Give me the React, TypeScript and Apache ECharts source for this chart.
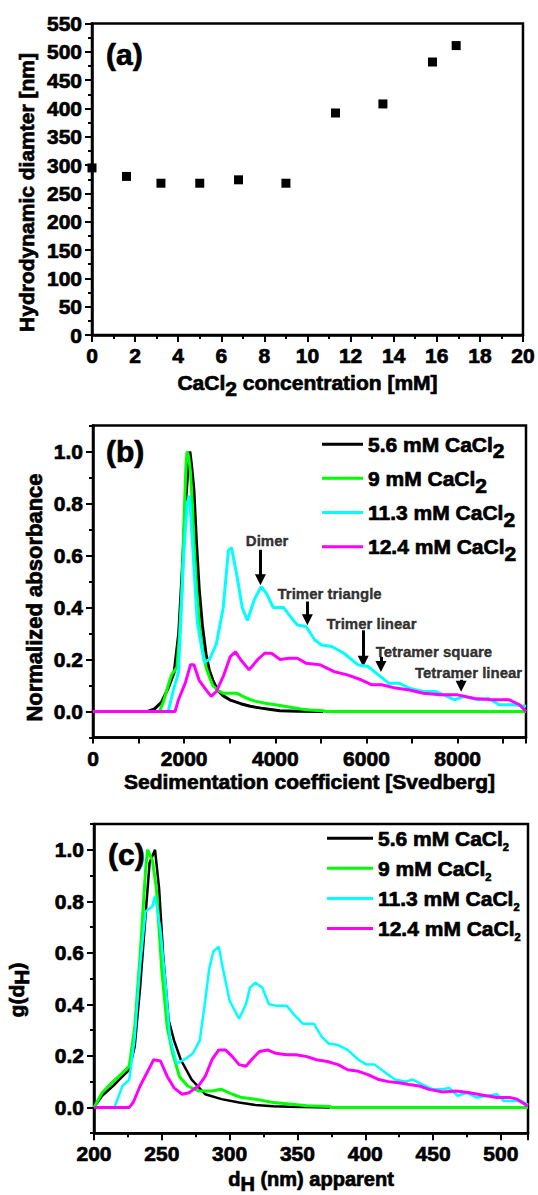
import { useEffect, useRef } from 'react';
import * as echarts from 'echarts';

const FONT = 'Liberation Sans';

// ---------------- Panel (a): DLS hydrodynamic diameter ----------------
const cacl2Conc = [0, 1.6, 3.2, 5.0, 6.8, 9.0, 11.3, 13.5, 15.8, 16.9];
const hydroDiameter = [295, 280, 268, 268, 274, 268, 392, 408, 482, 511];
const aXRange = [0, 20];
const aXStep = 2;
const aYRange = [0, 550];
const aYStep = 50;

// ---------------- Series names / colours (panels b & c) ----------------
const seriesNames = ['5.6 mM CaCl2', '9 mM CaCl2', '11.3 mM CaCl2', '12.4 mM CaCl2'];
const seriesColors = ['#000000', '#00ff00', '#00ffff', '#ff00ff'];

// ---------------- Panel (b): sedimentation coefficient [S] vs normalized absorbance ----------------
const sed56 = [[1200,0],[1350,0.01],[1500,0.035],[1650,0.09],[1780,0.15],[1880,0.3],[1960,0.55],[2030,0.8],[2100,0.97],[2125,1.0],[2160,0.95],[2215,0.85],[2270,0.65],[2330,0.47],[2400,0.33],[2480,0.22],[2550,0.16],[2630,0.12],[2740,0.08],[2860,0.06],[3000,0.045],[3240,0.03],[3450,0.02],[3690,0.013],[3900,0.008],[4100,0.003],[4500,0.001],[5050,0]];
const sed9 = [[1460,0],[1550,0.04],[1650,0.1],[1720,0.14],[1840,0.17],[1900,0.3],[1950,0.47],[2000,0.75],[2040,0.95],[2065,1.0],[2100,0.98],[2140,0.92],[2180,0.8],[2215,0.66],[2270,0.48],[2330,0.34],[2400,0.24],[2480,0.17],[2560,0.13],[2630,0.1],[2750,0.08],[2860,0.07],[3000,0.07],[3160,0.07],[3270,0.06],[3390,0.05],[3550,0.04],[3690,0.035],[3850,0.03],[4000,0.026],[4200,0.02],[4370,0.015],[4550,0.01],[4750,0.006],[5050,0.003],[5100,0],[9500,0]];
const sed113 = [[1650,0],[1760,0.08],[1875,0.15],[1990,0.6],[2065,0.8],[2117,0.83],[2178,0.66],[2290,0.34],[2440,0.19],[2556,0.2],[2707,0.26],[2858,0.4],[2971,0.62],[3040,0.63],[3160,0.52],[3274,0.4],[3387,0.35],[3538,0.43],[3690,0.48],[3803,0.455],[3954,0.4],[4181,0.4],[4332,0.365],[4484,0.333],[4673,0.327],[4862,0.276],[5013,0.256],[5240,0.25],[5504,0.224],[5807,0.18],[6034,0.173],[6260,0.141],[6487,0.109],[6714,0.109],[6941,0.09],[7243,0.077],[7508,0.077],[7773,0.058],[7924,0.045],[8150,0.058],[8453,0.045],[8680,0.05],[8907,0.026],[9209,0.026],[9500,0.02]];
const sed124 = [[0,0],[1800,0],[1875,0.045],[2026,0.11],[2140,0.18],[2215,0.18],[2329,0.12],[2480,0.083],[2593,0.058],[2707,0.077],[2858,0.135],[3009,0.21],[3123,0.23],[3236,0.2],[3425,0.16],[3614,0.2],[3765,0.224],[3917,0.224],[4106,0.2],[4295,0.205],[4484,0.205],[4673,0.186],[4975,0.18],[5278,0.154],[5580,0.141],[5882,0.122],[6109,0.103],[6336,0.103],[6638,0.09],[6941,0.083],[7243,0.07],[7621,0.064],[7999,0.064],[8377,0.05],[8755,0.045],[9133,0.045],[9360,0.026],[9500,0]];
const bXRange = [0, 9500];
const bXStep = 1000;
const bXLabelStep = 2000;

// ---------------- Panel (c): apparent d_H vs g(d_H) ----------------
const dh56 = [[200,0],[206,0.045],[214,0.083],[221,0.12],[226,0.146],[230,0.236],[234,0.465],[238,0.745],[241,0.95],[245,1.0],[248,0.85],[251,0.59],[255,0.34],[259,0.26],[264,0.185],[272,0.108],[282,0.051],[294,0.032],[307,0.019],[319,0.009],[332,0.004],[344,0.002],[374,0]];
const dh9 = [[200,0],[206,0.057],[214,0.1],[221,0.134],[226,0.16],[230,0.31],[234,0.59],[238,0.92],[239.5,1.0],[243,0.96],[246,0.85],[250,0.53],[254,0.31],[258,0.21],[263,0.12],[269,0.083],[277,0.064],[287,0.064],[294,0.07],[302,0.051],[309,0.038],[319,0.032],[332,0.019],[344,0.013],[357,0.006],[374,0.003],[375,0],[520,0]];
const dh113 = [[215,0],[221,0.083],[226,0.108],[230,0.27],[234,0.55],[238,0.76],[243,0.78],[245,0.82],[249,0.69],[253,0.465],[256,0.27],[261,0.17],[268,0.19],[273,0.21],[278,0.26],[282,0.414],[285,0.54],[288,0.605],[292,0.624],[295,0.54],[300,0.414],[307,0.344],[312,0.4],[315,0.465],[319,0.484],[324,0.465],[329,0.4],[334,0.395],[342,0.395],[347,0.363],[354,0.325],[362,0.325],[368,0.274],[373,0.248],[380,0.242],[387,0.223],[395,0.185],[401,0.166],[407,0.166],[415,0.134],[422,0.108],[430,0.1],[435,0.108],[442,0.089],[450,0.07],[457,0.07],[462,0.076],[468,0.045],[475,0.057],[482,0.038],[490,0.045],[497,0.051],[502,0.025],[510,0.025],[515,0.025],[520,0.01]];
const dh124 = [[200,0],[226,0],[229,0.02],[234,0.083],[239,0.134],[244,0.185],[249,0.18],[254,0.12],[259,0.076],[265,0.051],[270,0.057],[277,0.083],[282,0.12],[287,0.185],[292,0.223],[297,0.223],[302,0.197],[307,0.166],[312,0.16],[317,0.19],[322,0.217],[328,0.223],[334,0.21],[342,0.204],[349,0.204],[357,0.197],[364,0.185],[372,0.178],[380,0.166],[387,0.146],[395,0.14],[402,0.127],[410,0.108],[417,0.1],[425,0.096],[432,0.089],[440,0.083],[447,0.07],[457,0.06],[467,0.064],[477,0.057],[487,0.047],[497,0.038],[507,0.038],[512,0.032],[520,0.004]];
const cXRange = [200, 520];
const cXStep = 50;

// shared normalized y axis
const normYRange = [-0.1, 1.1];
const normYStep = 0.1;
const normYMajor = [0, 0.2, 0.4, 0.6, 0.8, 1.0];

// ---------------- Panel (b) annotations ----------------
const annotationText = ['Dimer', 'Trimer triangle', 'Trimer linear', 'Tetramer square', 'Tetramer linear'];
const annotationX = [3820, 5190, 6110, 7480, 8240];
const annotationY = [0.657, 0.453, 0.337, 0.231, 0.151];
const arrowX = [3674, 4703, 5928, 6318, 8077];
const arrowTail = [0.622, 0.423, 0.312, 0.21, 0.122];
const arrowTip = [0.487, 0.333, 0.173, 0.153, 0.077];

const HEAVY = { textBorderColor: '#000', textBorderWidth: 0.7 };

// rich text for ECharts components: main token centred in a line of height subH + 2*drop,
// subscript token pushed down by its top padding (= 2*drop)
const richSub = (mainSize: number, subSize: number, subH: number, drop: number) => {
  const pad = 2 * drop;
  const L = pad + subH;
  return {
    n: { fontSize: mainSize, lineHeight: L, fontWeight: 'bold', fontFamily: FONT, color: '#000', verticalAlign: 'middle', ...HEAVY },
    s: { fontSize: subSize, height: subH, lineHeight: L, fontWeight: 'bold', fontFamily: FONT, color: '#000', padding: [pad, 0, 0, 0], verticalAlign: 'top', ...HEAVY },
  };
};
// same for raw graphic text (zrender style names)
const gRichSub = (mainSize: number, subSize: number, subH: number, drop: number) => {
  const pad = 2 * drop;
  const L = pad + subH;
  const base = { fontWeight: 'bold', fontFamily: FONT, fill: '#000', stroke: '#000', lineWidth: 0.7 };
  return {
    n: { ...base, fontSize: mainSize, lineHeight: L, verticalAlign: 'middle' },
    s: { ...base, fontSize: subSize, height: subH, lineHeight: L, padding: [pad, 0, 0, 0], verticalAlign: 'top' },
  };
};

const tickLabel = { fontSize: 21, fontWeight: 'bold', fontFamily: FONT, color: '#000', ...HEAVY };
const axisLine = { show: true, onZero: false, lineStyle: { color: '#000', width: 2.5 } };
const tickStyle = { color: '#000', width: 2 };

export default function App() {
  const ref = useRef<HTMLDivElement>(null);

  useEffect(() => {
    if (!ref.current) return;
    const chart = echarts.init(ref.current, undefined, { renderer: 'svg' });

    const lineSeries = (data: number[][], i: number, xi: number, yi: number, width: number) => ({
      type: 'line',
      name: seriesNames[i],
      xAxisIndex: xi,
      yAxisIndex: yi,
      data,
      symbol: 'none',
      showSymbol: false,
      silent: true,
      lineStyle: { color: seriesColors[i], width },
      itemStyle: { color: seriesColors[i] },
      z: 3 + i,
    });

    const tipOffset = 0.02;
    const gtext = (x: number, y: number, text: string, size: number, rot = 0) => ({
      type: 'text', x, y, rotation: rot,
      style: {
        text, font: `bold ${size}px ${FONT}`, fill: '#000', stroke: '#000', lineWidth: 0.7,
        align: rot ? 'center' : 'left', verticalAlign: 'middle',
      },
    });

    const option: any = {
      animation: false,
      textStyle: { fontFamily: FONT, fontWeight: 'bold', color: '#000' },
      grid: [
        { left: 92, top: 23.5, width: 434, height: 311.5, show: true, borderColor: '#000', borderWidth: 2.5, backgroundColor: 'transparent' },
        { left: 93, top: 425.5, width: 433, height: 312, show: true, borderColor: '#000', borderWidth: 2.5, backgroundColor: 'transparent' },
        { left: 94, top: 824, width: 434, height: 314, show: true, borderColor: '#000', borderWidth: 2.5, backgroundColor: 'transparent' },
      ],
      xAxis: [
        {
          gridIndex: 0, type: 'value', min: aXRange[0], max: aXRange[1], interval: aXStep,
          axisLine, axisTick: { show: true, length: 7, lineStyle: tickStyle },
          minorTick: { show: true, splitNumber: 2, length: 4, lineStyle: tickStyle },
          splitLine: { show: false }, minorSplitLine: { show: false },
          axisLabel: { ...tickLabel, margin: 10 },
          name: '{n|CaCl}{s|2}{n| concentration [mM]}', nameLocation: 'middle', nameGap: 35.7,
          nameTextStyle: { rich: richSub(21, 21, 14, 5.3) },
        },
        {
          gridIndex: 1, type: 'value', min: bXRange[0], max: bXRange[1], interval: bXStep,
          axisLine, axisTick: { show: true, length: 6, lineStyle: tickStyle },
          splitLine: { show: false },
          axisLabel: { ...tickLabel, margin: 10, formatter: (v: number) => (v % bXLabelStep === 0 ? String(v) : '') },
          name: 'Sedimentation coefficient [Svedberg]', nameLocation: 'middle', nameGap: 29.3,
          nameTextStyle: { fontSize: 21, fontWeight: 'bold', fontFamily: FONT, color: '#000', lineHeight: 24, ...HEAVY },
        },
        {
          gridIndex: 2, type: 'value', min: cXRange[0], max: cXRange[1], interval: cXStep,
          axisLine, axisTick: { show: true, length: 7, lineStyle: tickStyle },
          minorTick: { show: true, splitNumber: 2, length: 4, lineStyle: tickStyle },
          splitLine: { show: false }, minorSplitLine: { show: false },
          axisLabel: { ...tickLabel, margin: 10, formatter: (v: number) => (v % cXStep === 0 ? String(v) : '') },
          name: '{n|d}{s|H}{n| (nm) apparent}', nameLocation: 'middle', nameGap: 33.5,
          nameTextStyle: { rich: richSub(20, 20, 14, 5) },
        },
      ],
      yAxis: [
        {
          gridIndex: 0, type: 'value', min: aYRange[0], max: aYRange[1], interval: aYStep,
          axisLine, axisTick: { show: true, length: 7, lineStyle: tickStyle },
          minorTick: { show: true, splitNumber: 2, length: 4, lineStyle: tickStyle },
          splitLine: { show: false }, minorSplitLine: { show: false },
          axisLabel: { ...tickLabel, margin: 10 },
        },
        {
          gridIndex: 1, type: 'value', min: normYRange[0], max: normYRange[1], interval: normYStep,
          axisLine, axisTick: { show: true, length: 4, lineStyle: tickStyle },
          splitLine: { show: false },
          axisLabel: {
            ...tickLabel, margin: 10,
            formatter: (v: number) => (normYMajor.some((m) => Math.abs(m - v) < 1e-6) ? v.toFixed(1) : ''),
          },
        },
        {
          gridIndex: 2, type: 'value', min: normYRange[0], max: normYRange[1], interval: normYStep,
          axisLine, axisTick: { show: true, length: 4, lineStyle: tickStyle },
          splitLine: { show: false },
          axisLabel: {
            ...tickLabel, margin: 10,
            formatter: (v: number) => (normYMajor.some((m) => Math.abs(m - v) < 1e-6) ? v.toFixed(1) : ''),
          },
        },
        {
          gridIndex: 1, type: 'value', position: 'left', min: normYRange[0], max: normYRange[1],
          axisLine: { show: false, onZero: false }, axisLabel: { show: false }, splitLine: { show: false },
          axisTick: { show: true, length: 7, customValues: normYMajor, lineStyle: tickStyle },
        },
        {
          gridIndex: 2, type: 'value', position: 'left', min: normYRange[0], max: normYRange[1],
          axisLine: { show: false, onZero: false }, axisLabel: { show: false }, splitLine: { show: false },
          axisTick: { show: true, length: 7, customValues: normYMajor, lineStyle: tickStyle },
        },
      ],
      legend: [
        {
          data: seriesNames, orient: 'vertical', left: 322, top: 430.5, padding: 0,
          itemWidth: 41, itemHeight: 3, itemGap: 2.9, icon: 'rect', selectedMode: false,
          formatter: (name: string) => `{n|${name.slice(0, -1)}}{s|2}`,
          textStyle: { rich: richSub(21, 21, 14, 6.7) },
        },
        {
          data: seriesNames, orient: 'vertical', left: 327, top: 825.3, padding: 0,
          itemWidth: 46, itemHeight: 3, itemGap: 2.2, icon: 'rect', selectedMode: false,
          formatter: (name: string) => `{n|${name.slice(0, -1)}}{s|2}`,
          textStyle: { rich: richSub(21, 11, 8, 9) },
        },
      ],
      graphic: [
        gtext(106, 54.4, '(a)', 30),
        gtext(106, 451.4, '(b)', 30),
        gtext(108, 854.7, '(c)', 30),
        gtext(26, 192.5, 'Hydrodynamic diamter [nm]', 21, Math.PI / 2),
        gtext(34.5, 597.5, 'Normalized absorbance', 22, Math.PI / 2),
        {
          type: 'text', x: 16.5, y: 990, rotation: Math.PI / 2,
          style: {
            text: '{n|g(d}{s|H}{n|)}', font: `bold 21px ${FONT}`, fill: '#000',
            align: 'center', verticalAlign: 'middle', rich: gRichSub(21, 21, 14, 5),
          },
        },
      ],
      series: [
        {
          type: 'scatter', name: 'Hydrodynamic diameter', xAxisIndex: 0, yAxisIndex: 0,
          data: cacl2Conc.map((x, i) => [x, hydroDiameter[i]]),
          symbol: 'rect', symbolSize: 9, itemStyle: { color: '#000', opacity: 1 }, silent: true,
        },
        lineSeries(sed56, 0, 1, 1, 3),
        lineSeries(sed9, 1, 1, 1, 3),
        lineSeries(sed113, 2, 1, 1, 3),
        lineSeries(sed124, 3, 1, 1, 3),
        lineSeries(dh56, 0, 2, 2, 2.5),
        lineSeries(dh9, 1, 2, 2, 3),
        lineSeries(dh113, 2, 2, 2, 2.5),
        lineSeries(dh124, 3, 2, 2, 3),
        {
          type: 'scatter', name: 'annotations', xAxisIndex: 1, yAxisIndex: 1, silent: true, z: 10,
          data: annotationText.map((t, i) => ({ name: t, value: [annotationX[i], annotationY[i]] })),
          symbolSize: 1, itemStyle: { color: 'rgba(0,0,0,0)' },
          label: { show: true, position: 'inside', formatter: '{b}', fontSize: 15, fontWeight: 'bold', fontFamily: FONT, color: '#000', textBorderColor: '#000', textBorderWidth: 0.4 },
          markLine: {
            silent: true, symbol: ['none', 'triangle'], symbolSize: 11, animation: false,
            lineStyle: { color: '#000', width: 3, type: 'solid' },
            itemStyle: { color: '#000' },
            label: { show: false },
            data: arrowX.map((x, i) => [
              { coord: [x, arrowTail[i]] },
              { coord: [x, arrowTip[i] + tipOffset] },
            ]),
          },
        },
      ],
    };

    chart.setOption(option);
    return () => chart.dispose();
  }, []);

  return <div ref={ref} style={{ position: 'absolute', left: 0, top: 0, width: 538, height: 1195, background: '#fff' }} />;
}
